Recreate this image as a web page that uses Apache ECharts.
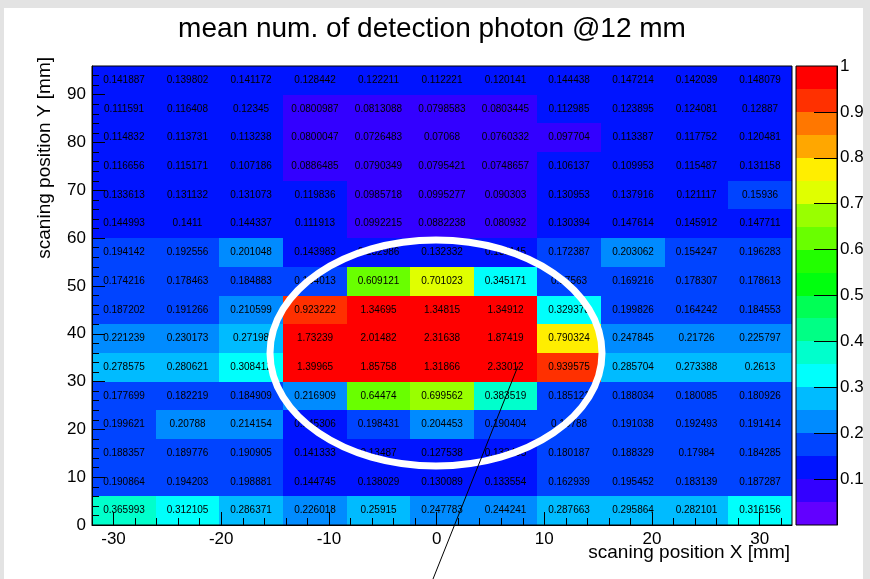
<!DOCTYPE html>
<html><head><meta charset="utf-8">
<script src="https://cdn.jsdelivr.net/npm/echarts@6/dist/echarts.min.js"></script>
<style>html,body{margin:0;padding:0;background:#fff}#c{width:870px;height:579px}</style>
</head><body><div id="c"></div>
<script>
// ---- axis ranges / ticks ----
const xRange = [-32, 33];      // 11 bins
const yRange = [0, 96];        // 16 bins of 6 mm
const zRange = [0, 1];         // 20 contour levels
const xMajorTicks = [-30, -20, -10, 0, 10, 20, 30];
const xMinorTicks = [-32,-28,-26,-24,-22,-18,-16,-14,-12,-8,-6,-4,-2,2,4,6,8,12,14,16,18,22,24,26,28,32];
const yMajorTicks = [0, 10, 20, 30, 40, 50, 60, 70, 80, 90];
const yMinorTicks = [2,4,6,8,12,14,16,18,22,24,26,28,32,34,36,38,42,44,46,48,52,54,56,58,62,64,66,68,72,74,76,78,82,84,86,88,92,94];
const zTicks = [0.1, 0.2, 0.3, 0.4, 0.5, 0.6, 0.7, 0.8, 0.9];
const zLabels = [0.1, 0.2, 0.3, 0.4, 0.5, 0.6, 0.7, 0.8, 0.9, 1];

// ---- cell values, one row per y bin (x from -32 to 33) ----
const rowY03 = [0.365993, 0.312105, 0.286371, 0.226018, 0.25915, 0.247783, 0.244241, 0.287663, 0.295864, 0.282101, 0.316156];
const rowY09 = [0.190864, 0.194203, 0.198881, 0.144745, 0.138029, 0.130089, 0.133554, 0.162939, 0.195452, 0.183139, 0.187287];
const rowY15 = [0.188357, 0.189776, 0.190905, 0.141333, 0.13487, 0.127538, 0.133405, 0.180187, 0.188329, 0.17984, 0.184285];
const rowY21 = [0.199621, 0.20788, 0.214154, 0.145306, 0.198431, 0.204453, 0.190404, 0.18788, 0.191038, 0.192493, 0.191414];
const rowY27 = [0.177699, 0.182219, 0.184909, 0.216909, 0.64474, 0.699562, 0.383519, 0.185121, 0.188034, 0.180085, 0.180926];
const rowY33 = [0.278575, 0.280621, 0.308412, 1.39965, 1.85758, 1.31866, 2.33012, 0.939575, 0.285704, 0.273388, 0.2613];
const rowY39 = [0.221239, 0.230173, 0.27198, 1.73239, 2.01482, 2.31638, 1.87419, 0.790324, 0.247845, 0.21726, 0.225797];
const rowY45 = [0.187202, 0.191266, 0.210599, 0.923222, 1.34695, 1.34815, 1.34912, 0.329378, 0.199826, 0.164242, 0.184553];
const rowY51 = [0.174216, 0.178463, 0.184883, 0.164013, 0.609121, 0.701023, 0.345171, 0.17563, 0.169216, 0.178307, 0.178613];
const rowY57 = [0.194142, 0.192556, 0.201048, 0.143983, 0.132986, 0.132332, 0.131145, 0.172387, 0.203062, 0.154247, 0.196283];
const rowY63 = [0.144993, 0.1411, 0.144337, 0.111913, 0.0992215, 0.0882238, 0.080932, 0.130394, 0.147614, 0.145912, 0.147711];
const rowY69 = [0.133613, 0.131132, 0.131073, 0.119836, 0.0985718, 0.0995277, 0.090303, 0.130953, 0.137916, 0.121117, 0.15936];
const rowY75 = [0.116656, 0.115171, 0.107186, 0.0886485, 0.0790349, 0.0795421, 0.0748657, 0.106137, 0.109953, 0.115487, 0.131158];
const rowY81 = [0.114832, 0.113731, 0.113238, 0.0800047, 0.0726483, 0.07068, 0.0760332, 0.097704, 0.113387, 0.117752, 0.120481];
const rowY87 = [0.111591, 0.116408, 0.12345, 0.0800987, 0.0813088, 0.0798583, 0.0803445, 0.112985, 0.123895, 0.124081, 0.12887];
const rowY93 = [0.141887, 0.139802, 0.141172, 0.128442, 0.122211, 0.112221, 0.120141, 0.144438, 0.147214, 0.142039, 0.148079];

// ROOT "pretty" palette, 20 contours
const palette = ['#6200ff','#3300ff','#0014ff','#0044ff','#008bff','#00bbff','#00fffc','#00ffcc','#00ff85','#00ff55',
                 '#00ff0e','#22ff00','#69ff00','#99ff00','#e0ff00','#ffee00','#ffa700','#ff7700','#ff3000','#ff0000'];

const rows = [rowY03,rowY09,rowY15,rowY21,rowY27,rowY33,rowY39,rowY45,rowY51,rowY57,rowY63,rowY69,rowY75,rowY81,rowY87,rowY93];
const nX = rowY03.length, nY = rows.length, nZ = palette.length;
const xEdges = [], yEdges = [], zEdges = [];
for (let i = 0; i <= nX; i++) xEdges.push(xRange[0] + (xRange[1]-xRange[0]) * i / nX);
for (let j = 0; j <= nY; j++) yEdges.push(yRange[0] + (yRange[1]-yRange[0]) * j / nY);
for (let k = 0; k <= nZ; k++) zEdges.push(zRange[0] + (zRange[1]-zRange[0]) * k / nZ);

const cellData = [];
rows.forEach((row, j) => row.forEach((v, i) => cellData.push([i, j, v])));
const bandData = palette.map((c, k) => [k]);

function bandIndex(v) {
  let k = Math.floor((v - zRange[0]) / (zRange[1]-zRange[0]) * nZ + 1e-9);
  return Math.max(0, Math.min(nZ - 1, k));
}

const FONT = '"Liberation Sans", Arial, Helvetica, sans-serif';
const chart = echarts.init(document.getElementById('c'), null, {renderer: 'canvas'});

function baseX(grid, ticks, len, labels) {
  return {
    gridIndex: grid, type: 'value', min: xRange[0], max: xRange[1], position: 'bottom', z: 20,
    axisLine: {show: labels, onZero: false, lineStyle: {color: '#000', width: 1}},
    axisTick: {show: true, inside: true, length: len, customValues: ticks, lineStyle: {color: '#000', width: 1}},
    axisLabel: labels ? {show: true, customValues: ticks, margin: 6, fontSize: 17, color: '#000', fontFamily: FONT} : {show: false},
    splitLine: {show: false}
  };
}
function baseY(ticks, len, labels) {
  return {
    gridIndex: 0, type: 'value', min: yRange[0], max: yRange[1], position: 'left', z: 20,
    axisLine: {show: labels, onZero: false, lineStyle: {color: '#000', width: 1}},
    axisTick: {show: true, inside: true, length: len, customValues: ticks, lineStyle: {color: '#000', width: 1}},
    axisLabel: labels ? {show: true, customValues: ticks, margin: 6, fontSize: 17, color: '#000', fontFamily: FONT} : {show: false},
    splitLine: {show: false}
  };
}

chart.setOption({
  animation: false,
  backgroundColor: '#ffffff',
  grid: [
    {left: 92, right: 78, top: 66, bottom: 54, show: true, borderColor: '#000', borderWidth: 1, backgroundColor: 'transparent', z: 20},
    {left: 796, right: 33, top: 66, bottom: 54, show: true, borderColor: '#000', borderWidth: 1, backgroundColor: 'transparent', z: 20}
  ],
  xAxis: [
    baseX(0, xMajorTicks, 13, true),
    baseX(0, xMinorTicks, 7, false),
    {gridIndex: 1, type: 'value', min: 0, max: 1, show: false, axisLine: {onZero: false}}
  ],
  yAxis: [
    baseY(yMajorTicks, 13, true),
    baseY(yMinorTicks, 7, false),
    {gridIndex: 1, type: 'value', min: zRange[0], max: zRange[1], position: 'right', z: 20,
     axisLine: {show: true, onZero: false, lineStyle: {color: '#000'}},
     axisTick: {show: true, inside: true, length: 23, customValues: zTicks, lineStyle: {color: '#000'}},
     axisLabel: {show: true, customValues: zLabels, margin: 3, fontSize: 17, color: '#000', fontFamily: FONT},
     splitLine: {show: false}}
  ],
  series: [
    {
      type: 'custom', xAxisIndex: 0, yAxisIndex: 0, data: cellData, z: 1,
      renderItem: function (params, api) {
        const i = api.value(0), j = api.value(1), v = api.value(2);
        const a = api.coord([xEdges[i], yEdges[j + 1]]);
        const b = api.coord([xEdges[i + 1], yEdges[j]]);
        const x0 = Math.round(a[0]), y0 = Math.round(a[1]), x1 = Math.round(b[0]), y1 = Math.round(b[1]);
        return {type: 'group', children: [
          {type: 'rect', shape: {x: x0, y: y0, width: x1 - x0, height: y1 - y0}, style: {fill: palette[bandIndex(v)]}},
          {type: 'text', x: (x0 + x1) / 2, y: (y0 + y1) / 2, z2: 10,
           style: {text: String(v), align: 'center', verticalAlign: 'middle', font: '10px ' + FONT, fill: '#000'}}
        ]};
      }
    },
    {
      type: 'custom', xAxisIndex: 2, yAxisIndex: 2, data: bandData, z: 1,
      renderItem: function (params, api) {
        const k = api.value(0);
        const a = api.coord([0, zEdges[k + 1]]);
        const b = api.coord([1, zEdges[k]]);
        const x0 = Math.round(a[0]), y0 = Math.round(a[1]), x1 = Math.round(b[0]), y1 = Math.round(b[1]);
        return {type: 'rect', shape: {x: x0, y: y0, width: x1 - x0, height: y1 - y0}, style: {fill: palette[k]}};
      }
    }
  ],
  graphic: [
    {type: 'rect', z: -10, silent: true, shape: {x: 0, y: 0, width: 870, height: 8}, style: {fill: '#e3e3e3'}},
    {type: 'rect', z: -10, silent: true, shape: {x: 0, y: 0, width: 4, height: 579}, style: {fill: '#e3e3e3'}},
    {type: 'rect', z: -10, silent: true, shape: {x: 863, y: 0, width: 7, height: 579}, style: {fill: '#e3e3e3'}},
    {type: 'text', x: 432, y: 29, style: {text: 'mean num. of detection photon @12 mm', font: '28px ' + FONT, fill: '#000', align: 'center', verticalAlign: 'middle'}},
    {type: 'text', x: 790, y: 553, style: {text: 'scaning position X [mm]', font: '19px ' + FONT, fill: '#000', align: 'right', verticalAlign: 'middle'}},
    {type: 'text', x: 45, y: 57, rotation: Math.PI / 2, style: {text: 'scaning position Y [mm]', font: '19px ' + FONT, fill: '#000', align: 'right', verticalAlign: 'middle'}},
    {type: 'ellipse', z: 100, silent: true, shape: {cx: 436, cy: 353, rx: 166, ry: 113}, style: {fill: 'none', stroke: '#ffffff', lineWidth: 7}},
    {type: 'line', z: 100, silent: true, shape: {x1: 518, y1: 366, x2: 433, y2: 579}, style: {stroke: '#000', lineWidth: 1}}
  ]
});
</script></body></html>
